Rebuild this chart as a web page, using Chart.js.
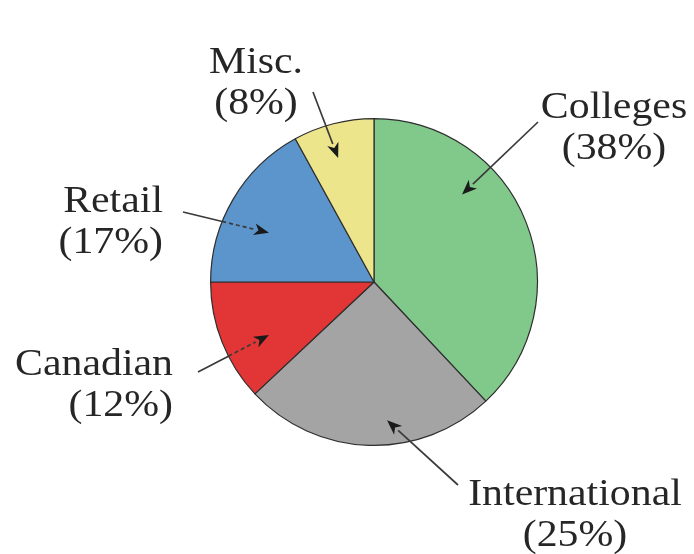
<!DOCTYPE html>
<html>
<head>
<meta charset="utf-8">
<script src="https://cdn.jsdelivr.net/npm/chart.js@4/dist/chart.umd.min.js"></script>
<style>
  html, body { margin: 0; padding: 0; background: #ffffff; }
  #wrap { width: 694px; height: 554px; }
</style>
</head>
<body>
<div id="wrap"><canvas id="c" width="694" height="554"></canvas></div>
<script>
// Revenue sources, in percent, clockwise from 12 o'clock
const categories = ['Colleges', 'International', 'Canadian', 'Retail', 'Misc.'];
const shares = [38, 25, 12, 17, 8];

const sliceColors = ['#80c98b', '#a4a4a4', '#e23535', '#5b95cb', '#ece58c'];

// Callout layout per slice: where the arrow points inside the slice
// (fraction of the slice's sweep, fraction of the radius), where its tail
// sits relative to the pie centre, and where the two-line label goes.
const callouts = [
  { tip: [0.33, 0.76], tail: [164, -160], label: [240, -164], align: 'center', dashed: false },
  { tip: [0.42, 0.85], tail: [84, 203],   label: [201, 223],  align: 'center', dashed: false },
  { tip: [0.38, 0.72], tail: [-176, 90],  label: [-201, 93],  align: 'right',  dashed: true },
  { tip: [0.41, 0.71], tail: [-191, -70], label: [-211, -70], align: 'right',  dashed: true },
  { tip: [0.44, 0.79], tail: [-61, -190], label: [-118, -209], align: 'center', dashed: false }
];

const FONT_PX = 37;
const LINE_GAP = 41;
const STRETCH = 1.13;

function drawLabel(ctx, str, x, y, align) {
  ctx.save();
  ctx.translate(x, y);
  ctx.scale(STRETCH, 1);
  ctx.textAlign = align;
  ctx.textBaseline = 'alphabetic';
  ctx.fillText(str, 0, 0);
  ctx.restore();
}

const calloutPlugin = {
  id: 'callouts',
  afterDatasetsDraw(chart) {
    const ctx = chart.ctx;
    const arcs = chart.getDatasetMeta(0).data;
    ctx.save();
    arcs.forEach((arc, i) => {
      const c = callouts[i];
      const { x: cx, y: cy, startAngle, endAngle, outerRadius } = arc.getProps(['x', 'y', 'startAngle', 'endAngle', 'outerRadius'], true);
      const a = startAngle + c.tip[0] * (endAngle - startAngle);
      const tx = cx + Math.cos(a) * outerRadius * c.tip[1];
      const ty = cy + Math.sin(a) * outerRadius * c.tip[1];
      const sx = cx + c.tail[0];
      const sy = cy + c.tail[1];

      const dx = tx - sx, dy = ty - sy;
      const len = Math.hypot(dx, dy);
      const ux = dx / len, uy = dy / len;
      const headLen = 15, headHalf = 6;
      const bx = tx - ux * headLen, by = ty - uy * headLen;

      // point where the leader crosses the rim
      const fx = sx - cx, fy = sy - cy;
      const B = fx * ux + fy * uy;
      const C = fx * fx + fy * fy - outerRadius * outerRadius;
      const tRim = -B - Math.sqrt(Math.max(B * B - C, 0));
      const rx = sx + ux * tRim, ry = sy + uy * tRim;

      ctx.strokeStyle = '#3a3a3a';
      ctx.lineWidth = 1.7;
      ctx.setLineDash([]);
      ctx.beginPath();
      if (c.dashed) {
        ctx.moveTo(sx, sy);
        ctx.lineTo(rx, ry);
        ctx.stroke();
        ctx.setLineDash([4, 3]);
        ctx.beginPath();
        ctx.moveTo(rx, ry);
        ctx.lineTo(bx, by);
        ctx.stroke();
        ctx.setLineDash([]);
      } else {
        ctx.moveTo(sx, sy);
        ctx.lineTo(bx, by);
        ctx.stroke();
      }

      ctx.fillStyle = '#1a1a1a';
      ctx.beginPath();
      ctx.moveTo(tx, ty);
      ctx.lineTo(bx - uy * headHalf, by + ux * headHalf);
      ctx.lineTo(tx - ux * headLen * 0.72, ty - uy * headLen * 0.72);
      ctx.lineTo(bx + uy * headHalf, by - ux * headHalf);
      ctx.closePath();
      ctx.fill();

      ctx.fillStyle = '#262626';
      ctx.font = FONT_PX + 'px "Liberation Serif", "DejaVu Serif", serif';
      const lx = cx + c.label[0], ly = cy + c.label[1];
      drawLabel(ctx, categories[i], lx, ly, c.align);
      drawLabel(ctx, '(' + shares[i] + '%)', lx, ly + LINE_GAP, c.align);
    });
    ctx.restore();
  }
};

new Chart(document.getElementById('c'), {
  type: 'pie',
  data: {
    labels: categories,
    datasets: [{
      data: shares,
      backgroundColor: sliceColors,
      borderColor: '#2e2e2e',
      borderWidth: 1.2,
      hoverOffset: 0
    }]
  },
  options: {
    responsive: false,
    animation: false,
    events: [],
    layout: { padding: { left: 210, right: 156, top: 118, bottom: 108 } },
    plugins: {
      legend: { display: false },
      tooltip: { enabled: false }
    }
  },
  plugins: [calloutPlugin]
});
</script>
</body>
</html>
